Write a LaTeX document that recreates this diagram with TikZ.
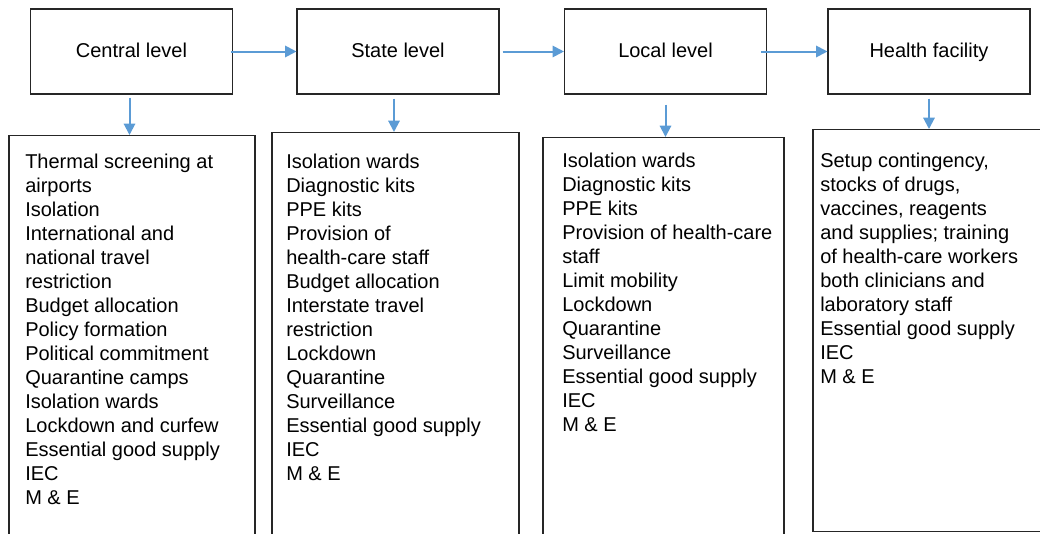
\documentclass[tikz,border=0pt]{standalone}
\usepackage{fontspec}
\setmainfont{Liberation Sans}
\usepackage{tikz}
\usetikzlibrary{arrows.meta}
\usetikzlibrary{positioning}

\definecolor{flowblue}{HTML}{5B9BD5}

\tikzset{
    levelbox/.style={draw=black!85, line width=0.8pt, minimum width=151.5pt, minimum height=63.75pt, inner sep=0pt, text height=0.9em, text depth=0pt},
    listbox/.style={draw=black!85, line width=0.8pt, anchor=north, inner sep=0pt},
    listtext/.style={anchor=north west, align=left, inner sep=0pt, font=\fontsize{15}{18}\selectfont},
    flow/.style={draw=flowblue, line width=1.5pt, -{Triangle[width=8.5pt, length=8.5pt]}}
}

\begin{document}
\begin{tikzpicture}[x=0.75pt, y=-0.75pt, font=\fontsize{15}{18}\selectfont]
            \useasboundingbox (0,0) rectangle (1040,533);
            \clip (0,0) rectangle (1040,533);

            % the four levels
            \node[levelbox] (central) at (131.5,51.5) {Central level};
            \node[levelbox] (state) at (398,51.5) {State level};
            \node[levelbox] (local) at (665.5,51.5) {Local level};
            \node[levelbox] (facility) at (929,51.5) {Health facility};

            % boxes below
            \node[listbox, minimum width=184.5pt, minimum height=320pt] (centralBox) at (132,135) {};
            \node[listbox, minimum width=185.25pt, minimum height=322pt] (stateBox) at (395.5,132) {};
            \node[listbox, minimum width=180.75pt, minimum height=318pt] (localBox) at (663.5,137) {};
            \node[listbox, minimum width=174pt, minimum height=301.5pt] (facilityBox) at (929,129) {};

            \node[listtext] (centralList) at (25,154) {Thermal screening at\\airports\\Isolation\\International and\\national travel\\restriction\\Budget allocation\\Policy formation\\Political commitment\\Quarantine camps\\Isolation wards\\Lockdown and curfew\\Essential good supply\\IEC\\M \& E};
            \node[listtext] (stateList) at (286,154) {Isolation wards\\Diagnostic kits\\PPE kits\\Provision of\\health-care staff\\Budget allocation\\Interstate travel\\restriction\\Lockdown\\Quarantine\\Surveillance\\Essential good supply\\IEC\\M \& E};
            \node[listtext] (localList) at (562,153) {Isolation wards\\Diagnostic kits\\PPE kits\\Provision of health-care\\staff\\Limit mobility\\Lockdown\\Quarantine\\Surveillance\\Essential good supply\\IEC\\M \& E};
            \node[listtext] (facilityList) at (820,153) {Setup contingency,\\stocks of drugs,\\vaccines, reagents\\and supplies; training\\of health-care workers\\both clinicians and\\laboratory staff\\Essential good supply\\IEC\\M \& E};

            % arrows
            \draw[flow] ([xshift=-1.5pt]central.east) -- (state.west);
            \draw[flow] ([xshift=2.25pt]state.east) -- (local.west);
            \draw[flow] ([xshift=-4.5pt]local.east) -- (facility.west);

            \draw[flow] ([xshift=-1.5pt,yshift=-2.25pt]central.south) -- ([xshift=-1.5pt]central.south |- centralBox.north);
            \draw[flow] ([xshift=-3pt,yshift=-3pt]state.south) -- ([xshift=-3pt]state.south |- stateBox.north);
            \draw[flow] ([yshift=-7.5pt]local.south) -- (local.south |- localBox.north);
            \draw[flow] ([yshift=-3pt]facility.south) -- (facility.south |- facilityBox.north);
        \end{tikzpicture}
\end{document}
